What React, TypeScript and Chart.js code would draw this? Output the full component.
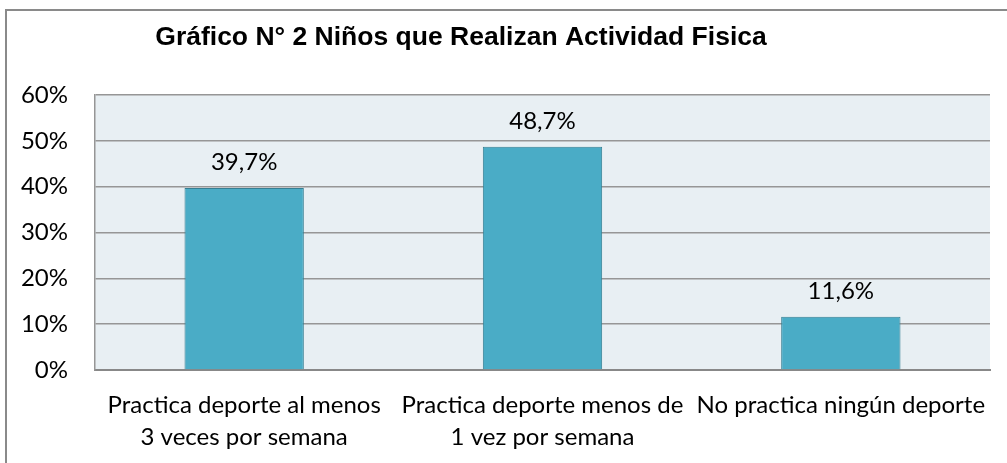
import React, { useEffect, useRef } from "react";
import { Chart, registerables } from "chart.js";

Chart.register(...registerables);

const TITLE = "Gráfico N° 2 Niños que Realizan Actividad Fisica";
const categories: string[][] = [
  ["Practica deporte al menos", "3 veces por semana"],
  ["Practica deporte menos de", "1 vez por semana"],
  ["No practica ningún deporte"],
];
const values: number[] = [39.7, 48.7, 11.6];
const yTicks: number[] = [0, 10, 20, 30, 40, 50, 60];

const LABEL_FONT = "Lato";

const framePlugin = {
  id: "frame",
  beforeDraw(chart: any) {
    const { ctx, chartArea } = chart;
    ctx.save();
    ctx.fillStyle = "#ffffff";
    ctx.fillRect(0, 0, chart.width, chart.height);
    ctx.fillStyle = "#e8eff3";
    ctx.fillRect(chartArea.left, chartArea.top, chartArea.right - chartArea.left, chartArea.bottom - chartArea.top);
    ctx.restore();
  },
  afterDraw(chart: any) {
    const { ctx } = chart;
    ctx.save();
    ctx.strokeStyle = "#8a8a8a";
    ctx.lineWidth = 2;
    ctx.beginPath();
    ctx.moveTo(6, chart.height + 5);
    ctx.lineTo(6, 10);
    ctx.lineTo(chart.width + 5, 10);
    ctx.stroke();
    ctx.fillStyle = "#000000";
    ctx.font = "bold 26.5px 'Liberation Sans', Arial, sans-serif";
    ctx.textAlign = "center";
    ctx.textBaseline = "alphabetic";
    ctx.fillText(TITLE, 461, 45);
    ctx.restore();
  },
};

const valueLabelPlugin = {
  id: "valueLabels",
  afterDatasetsDraw(chart: any) {
    const { ctx } = chart;
    const meta = chart.getDatasetMeta(0);
    ctx.save();
    ctx.fillStyle = "#000000";
    ctx.font = `24px ${LABEL_FONT}`;
    ctx.textAlign = "center";
    ctx.textBaseline = "alphabetic";
    meta.data.forEach((bar: any, i: number) => {
      const txt = values[i].toFixed(1).replace(".", ",") + "%";
      ctx.fillText(txt, bar.x, bar.y - 18);
    });
    ctx.restore();
  },
};

export default function App() {
  const ref = useRef<HTMLCanvasElement | null>(null);
  useEffect(() => {
    if (!ref.current) return;
    const chart = new Chart(ref.current, {
      type: "bar",
      data: {
        labels: categories,
        datasets: [
          {
            data: values,
            backgroundColor: "#4aacc6",
            borderColor: "#357f93",
            borderWidth: 1,
            barPercentage: 0.4,
            categoryPercentage: 1,
          },
        ],
      },
      options: {
        responsive: false,
        animation: false,
        layout: { padding: { left: 0, right: 17, top: 95, bottom: 0 } },
        plugins: {
          legend: { display: false },
          title: { display: false },
          tooltip: { enabled: false },
        },
        scales: {
          x: {
            grid: { display: false },
            border: { display: true, color: "#888888", width: 2 },
            ticks: {
              color: "#000000",
              font: { family: LABEL_FONT, size: 24, lineHeight: 1.3 },
              padding: 12,
              maxRotation: 0,
              autoSkip: false,
            },
            afterFit(scale: any) {
              scale.height = 93;
            },
          },
          y: {
            min: 0,
            max: 60,
            afterBuildTicks(scale: any) {
              scale.ticks = yTicks.map((v) => ({ value: v }));
            },
            grid: { color: "#969696", lineWidth: 1.5, drawTicks: false },
            border: { display: true, color: "#969696", width: 1.5 },
            ticks: {
              color: "#000000",
              font: { family: LABEL_FONT, size: 24 },
              padding: 27,
              callback: (v: any) => v + "%",
            },
            afterFit(scale: any) {
              scale.width = 95;
            },
          },
        },
      },
      plugins: [framePlugin, valueLabelPlugin],
    });
    return () => chart.destroy();
  }, []);
  return (
    <div style={{ position: "absolute", left: 0, top: 0, width: 1007, height: 463 }}>
      <canvas ref={ref} width={1007} height={463} />
    </div>
  );
}
